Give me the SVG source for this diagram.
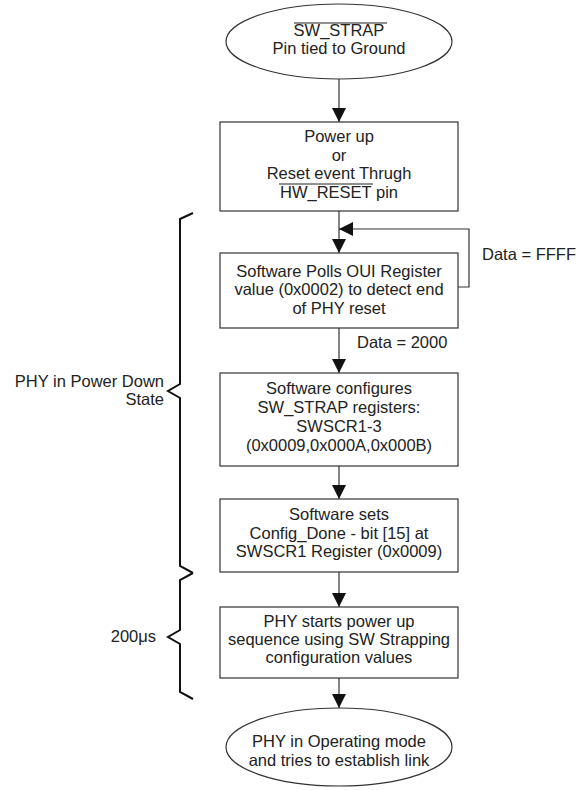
<svg xmlns="http://www.w3.org/2000/svg" width="576" height="790" viewBox="0 0 576 790">
<style>
.n{fill:#fff;stroke:#333;stroke-width:1.2}
.t{font-family:"Liberation Sans",Arial,sans-serif;font-size:16.5px;fill:#222;text-anchor:middle}
.l{font-family:"Liberation Sans",Arial,sans-serif;font-size:16.5px;fill:#222}
.c{fill:none;stroke:#333;stroke-width:1.2}
.b{fill:none;stroke:#111;stroke-width:2}
.o{stroke:#222;stroke-width:1.2}
</style>
<defs>
<marker id="ah" viewBox="0 0 14 14" refX="14" refY="7" markerWidth="14" markerHeight="14" markerUnits="userSpaceOnUse" orient="auto">
<path d="M0,0 L14,7 L0,14 Z" fill="#111"/>
</marker>
</defs>
<g id="connectors">
<line class="c" x1="339" y1="79" x2="339" y2="122" marker-end="url(#ah)"/>
<line class="c" x1="339" y1="211" x2="339" y2="253" marker-end="url(#ah)"/>
<polyline class="c" points="458,287 469,287 469,229 339,229" marker-end="url(#ah)"/>
<line class="c" x1="339" y1="328" x2="339" y2="373" marker-end="url(#ah)"/>
<line class="c" x1="339" y1="466" x2="339" y2="499" marker-end="url(#ah)"/>
<line class="c" x1="339" y1="572" x2="339" y2="607" marker-end="url(#ah)"/>
<line class="c" x1="339" y1="678" x2="339" y2="708" marker-end="url(#ah)"/>
<text class="l" x="482" y="260">Data = FFFF</text>
<text class="l" x="357" y="348">Data = 2000</text>
</g>
<g id="start">
<ellipse class="n" cx="339" cy="41.5" rx="113" ry="37.5"/>
<text class="t" x="339" y="36">SW_STRAP</text>
<line class="o" x1="294" y1="23" x2="387" y2="23"/>
<text class="t" x="339" y="54">Pin tied to Ground</text>
</g>
<g id="powerup">
<rect class="n" x="220" y="122" width="238" height="89"/>
<text class="t" x="339" y="142">Power up</text>
<text class="t" x="339" y="160.5">or</text>
<text class="t" x="339" y="179">Reset event Thrugh</text>
<text class="t" x="339" y="197.5">HW_RESET pin</text>
<line class="o" x1="279" y1="184" x2="373" y2="184"/>
</g>
<g id="poll">
<rect class="n" x="220" y="253" width="238" height="75"/>
<text class="t" x="339" y="277">Software Polls OUI Register</text>
<text class="t" x="339" y="295">value (0x0002) to detect end</text>
<text class="t" x="339" y="313.5">of PHY reset</text>
</g>
<g id="configure">
<rect class="n" x="220" y="373" width="238" height="93"/>
<text class="t" x="339" y="394">Software configures</text>
<text class="t" x="339" y="413">SW_STRAP registers:</text>
<text class="t" x="339" y="432">SWSCR1-3</text>
<text class="t" x="339" y="451">(0x0009,0x000A,0x000B)</text>
</g>
<g id="configdone">
<rect class="n" x="220" y="499" width="238" height="73"/>
<text class="t" x="339" y="520">Software sets</text>
<text class="t" x="339" y="538.5">Config_Done - bit [15] at</text>
<text class="t" x="339" y="557">SWSCR1 Register (0x0009)</text>
</g>
<g id="phystart">
<rect class="n" x="220" y="607" width="238" height="71"/>
<text class="t" x="339" y="627">PHY starts power up</text>
<text class="t" x="339" y="645">sequence using SW Strapping</text>
<text class="t" x="339" y="663">configuration values</text>
</g>
<g id="end">
<ellipse class="n" cx="339" cy="747" rx="113" ry="39"/>
<text class="t" x="339" y="747">PHY in Operating mode</text>
<text class="t" x="339" y="765.5">and tries to establish link</text>
</g>
<g id="brace-powerdown">
<polyline class="b" points="193,213 180,219 180,384 168,391 180,398 180,566 193,573"/>
<text class="l" x="164" y="387" text-anchor="end">PHY in Power Down</text>
<text class="l" x="164" y="405" text-anchor="end">State</text>
</g>
<g id="brace-200us">
<polyline class="b" points="193,573 180,580 180,630 168,637 180,644 180,692 193,699"/>
<text class="l" x="156" y="642" text-anchor="end">200μs</text>
</g>
</svg>
